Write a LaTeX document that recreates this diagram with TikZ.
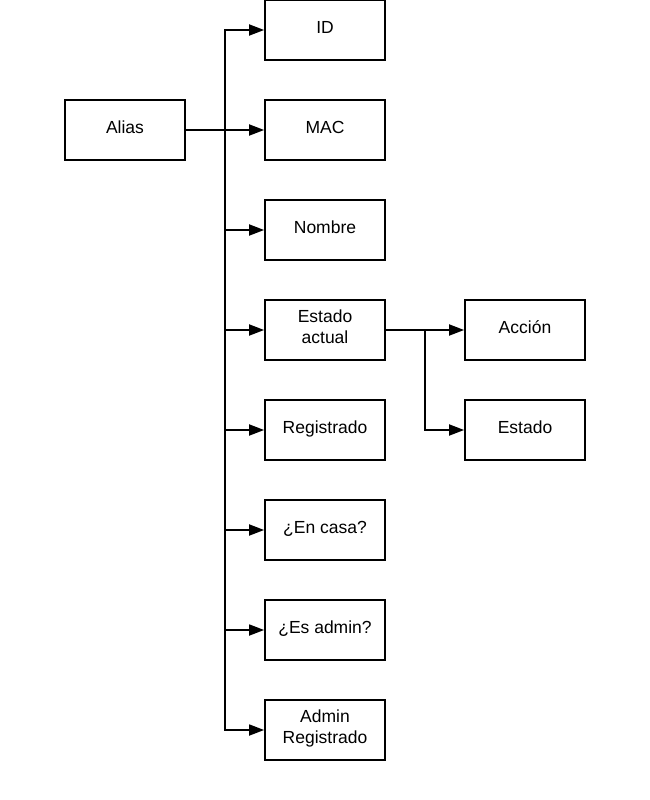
\documentclass[tikz,border=0pt]{standalone}
\usepackage{fontspec}
\setmainfont{Liberation Sans}
\usetikzlibrary{arrows.meta, positioning, calc}

\begin{document}
\begin{tikzpicture}[
    x=1pt, y=1pt,
    field/.style={draw, line width=1.8pt, minimum width=120pt,
      minimum height=60pt, inner sep=0pt, align=center, text depth=6pt,
      font=\fontsize{17.5}{21}\selectfont},
    link/.style={line width=1.8pt, -{Triangle[length=15pt,width=11pt]}},
    node distance=38.2pt and 78.2pt
]
  \useasboundingbox (0,0) rectangle (650,-800);
  \node[field] (id) at (325,-30) {ID};
  \node[field, below=of id] (mac) {MAC};
  \node[field, below=of mac] (nombre) {Nombre};
  \node[field, below=of nombre] (actual) {Estado\\actual};
  \node[field, below=of actual] (registrado) {Registrado};
  \node[field, below=of registrado] (casa) {¿En casa?};
  \node[field, below=of casa] (admin) {¿Es admin?};
  \node[field, below=of admin] (adminreg) {Admin\\Registrado};
  \node[field, left=of mac] (alias) {Alias};
  \node[field, right=of actual] (accion) {Acción};
  \node[field, below=of accion] (estado) {Estado};
  \coordinate (split) at ($(alias.east)!0.5!(mac.west)$);
  \coordinate (subsplit) at ($(actual.east)!0.5!(accion.west)$);
  \draw[link] (alias) -- (mac);
  \foreach \n in {id,nombre,actual,registrado,casa,admin,adminreg}
    \draw[link] (split) |- (\n.west);
  \draw[link] (actual) -- (accion);
  \draw[link] (subsplit) |- (estado);
\end{tikzpicture}
\end{document}
